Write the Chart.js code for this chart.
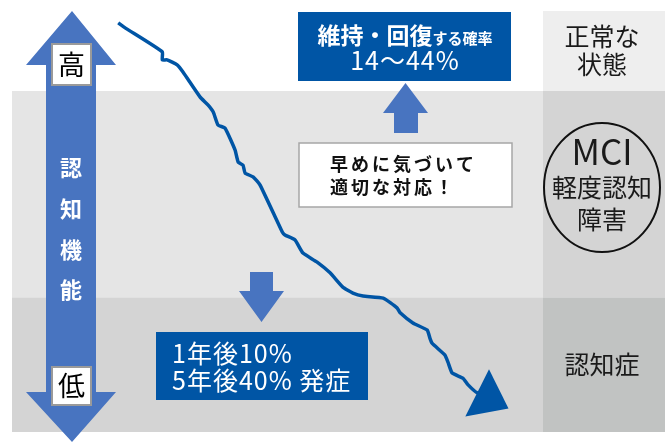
<!DOCTYPE html>
<html lang="ja">
<head>
<meta charset="utf-8">
<script src="https://cdn.jsdelivr.net/npm/chart.js@4/dist/chart.umd.min.js"></script>
<style>
  body { margin: 0; background: #ffffff; }
  canvas { display: block; }
</style>
</head>
<body>
<canvas id="myChart" width="665" height="443"></canvas>
<script>
// time (0-100) and cognitive level (0-100) along the decline curve
const timeSteps = [20.0, 21.3, 28.3, 28.3, 29.2, 31.1, 32.2, 35.4, 36.9, 37.9, 38.8, 40.1, 42.0,
  42.6, 43.5, 43.9, 45.4, 46.7, 50.9, 51.4, 53.3, 54.8, 57.4, 59.9, 62.3, 64.2, 66.1, 69.9,
  72.5, 73.1, 75.5, 78.2, 78.7, 79.1, 81.5, 82.1, 82.9, 84.9, 85.9, 87.6, 93.0];
const cognition = [97.2, 96.0, 90.3, 88.4, 88.4, 87.2, 85.5, 79.6, 77.7, 76.0, 72.9, 72.2, 67.0,
  64.1, 63.4, 61.5, 60.6, 58.7, 47.5, 46.8, 45.6, 42.5, 40.4, 37.8, 34.4, 33.0, 32.3, 31.8,
  29.5, 28.3, 25.9, 24.2, 22.3, 21.1, 18.3, 16.6, 14.0, 12.8, 11.2, 9.3, 5.9];

// bands from bottom to top
const bandEdges = [0, 32, 81, 100];
const bandLabels = [["認知症"], ["MCI", "軽度認知", "障害"], ["正常な", "状態"]];

// callouts
const axisTitle = ["認", "知", "機", "能"];
const highLabel = "高";
const lowLabel = "低";
const recoverTitle = "維持・回復";
const recoverSub = "する確率";
const recoverRange = "14〜44%";
const adviceLines = ["早めに気づいて", "適切な対応！"];
const onsetLines = ["1年後10%", "5年後40% 発症"];

const FONT = '"Noto Sans CJK JP", "Noto Sans", sans-serif';
const ARROW_BLUE = "#4874c0";
const BOX_BLUE = "#0055a5";

function poly(ctx, pts, color) {
  ctx.beginPath();
  ctx.moveTo(pts[0][0], pts[0][1]);
  for (let i = 1; i < pts.length; i++) ctx.lineTo(pts[i][0], pts[i][1]);
  ctx.closePath();
  ctx.fillStyle = color;
  ctx.fill();
}

function text(ctx, str, x, y, size, color, weight, align) {
  ctx.font = (weight || "normal") + " " + size + "px " + FONT;
  ctx.fillStyle = color;
  ctx.textAlign = align || "center";
  ctx.textBaseline = "middle";
  ctx.fillText(str, x, y);
}

const decor = {
  id: "decor",
  beforeDatasetsDraw(chart) {
    const { ctx, chartArea: a, scales: { y } } = chart;
    const W = chart.width;
    const leftColors = ["#d4d4d4", "#e5e5e5", null];
    const colColors = ["#c1c3c2", "#d4d4d4", "#eeeeee"];
    ctx.save();

    // bands
    for (let i = 0; i < 3; i++) {
      const top = y.getPixelForValue(bandEdges[i + 1]);
      const bottom = y.getPixelForValue(bandEdges[i]);
      if (leftColors[i]) {
        ctx.fillStyle = leftColors[i];
        ctx.fillRect(a.left, top, a.right - a.left, bottom - top);
      }
      ctx.fillStyle = colColors[i];
      ctx.fillRect(a.right, top, W - a.right, bottom - top);
    }

    // band labels in the right column
    const cx = (a.right + W) / 2 - 2;
    const mid = (i) => (y.getPixelForValue(bandEdges[i]) + y.getPixelForValue(bandEdges[i + 1])) / 2;
    text(ctx, bandLabels[2][0], cx, 36, 25, "#1a1a1a");
    text(ctx, bandLabels[2][1], cx, 64, 25, "#1a1a1a");
    text(ctx, bandLabels[1][0], cx, 152, 35, "#1a1a1a");
    text(ctx, bandLabels[1][1], cx, 187, 25, "#1a1a1a");
    text(ctx, bandLabels[1][2], cx, 219, 25, "#1a1a1a");
    ctx.beginPath();
    ctx.ellipse(cx, 187.5, 58, 64.5, 0, 0, Math.PI * 2);
    ctx.strokeStyle = "#111111";
    ctx.lineWidth = 2;
    ctx.stroke();
    text(ctx, bandLabels[0][0], cx, mid(0), 25, "#1a1a1a");

    // vertical double arrow
    poly(ctx, [[72, 11], [116, 65], [96, 65], [96, 392], [116, 392], [72, 442],
      [26, 392], [46, 392], [46, 65], [26, 65]], ARROW_BLUE);
    ctx.fillStyle = "#ffffff";
    ctx.strokeStyle = "#9a9a9a";
    ctx.lineWidth = 2;
    ctx.fillRect(52, 44, 39, 41);
    ctx.strokeRect(52, 44, 39, 41);
    ctx.fillRect(52, 367, 39, 38);
    ctx.strokeRect(52, 367, 39, 38);
    text(ctx, highLabel, 71.5, 65, 27, "#000000");
    text(ctx, lowLabel, 71.5, 386, 27, "#000000");
    axisTitle.forEach((c, i) => text(ctx, c, 71, 168 + i * 40.7, 22, "#ffffff", "bold"));

    // recovery box and up arrow
    ctx.fillStyle = BOX_BLUE;
    ctx.fillRect(298, 12, 213, 69);
    ctx.font = "bold 23px " + FONT;
    const w1 = ctx.measureText(recoverTitle).width;
    ctx.font = "bold 15px " + FONT;
    const w2 = ctx.measureText(recoverSub).width;
    const sx = 405 - (w1 + w2) / 2;
    text(ctx, recoverTitle, sx, 35, 23, "#ffffff", "bold", "left");
    text(ctx, recoverSub, sx + w1, 38, 15, "#ffffff", "bold", "left");
    ctx.letterSpacing = "1px";
    text(ctx, recoverRange, 405, 60, 25, "#ffffff");
    ctx.letterSpacing = "0px";
    poly(ctx, [[405.5, 83], [428, 113], [418, 113], [418, 133], [394, 133], [394, 113], [383, 113]], ARROW_BLUE);

    // advice box
    ctx.fillStyle = "#ffffff";
    ctx.fillRect(299, 143, 213, 64);
    ctx.strokeStyle = "#a6a6a6";
    ctx.lineWidth = 1.5;
    ctx.strokeRect(299, 143, 213, 64);
    ctx.letterSpacing = "3px";
    text(ctx, adviceLines[0], 330, 164, 18, "#111111", "bold", "left");
    text(ctx, adviceLines[1], 330, 187, 18, "#111111", "bold", "left");
    ctx.letterSpacing = "0px";

    // onset box and down arrow
    poly(ctx, [[250, 272], [273, 272], [273, 291], [284, 291], [261.5, 322], [239, 291], [250, 291]], ARROW_BLUE);
    ctx.fillStyle = BOX_BLUE;
    ctx.fillRect(156, 332, 212, 68);
    ctx.letterSpacing = "1px";
    text(ctx, onsetLines[0], 172, 353, 25, "#ffffff", "normal", "left");
    text(ctx, onsetLines[1], 172, 380, 25, "#ffffff", "normal", "left");
    ctx.letterSpacing = "0px";

    ctx.restore();
  },
  // arrow head at the end of the curve
  afterDatasetsDraw(chart) {
    const { ctx } = chart;
    const pts = chart.getDatasetMeta(0).data;
    const tip = pts[pts.length - 1];
    const base = pts[pts.length - 2];
    const dx = tip.x - base.x;
    const dy = tip.y - base.y;
    const len = Math.hypot(dx, dy);
    const ux = dx / len;
    const uy = dy / len;
    const px = -uy * 26.5;
    const py = ux * 26.5;
    ctx.save();
    poly(ctx, [[tip.x + ux * 3, tip.y + uy * 3], [base.x + px, base.y + py], [base.x - px, base.y - py]], BOX_BLUE);
    ctx.restore();
  },
};

const points = timeSteps.map((t, i) => ({ x: t, y: cognition[i] }));

new Chart(document.getElementById("myChart"), {
  type: "line",
  data: {
    datasets: [
      {
        data: points,
        borderColor: BOX_BLUE,
        borderWidth: 3.5,
        borderCapStyle: "butt",
        borderJoinStyle: "round",
        tension: 0.15,
        pointRadius: 0,
        fill: false,
      },
    ],
  },
  options: {
    responsive: false,
    animation: false,
    layout: { padding: { left: 12, right: 122, top: 11, bottom: 11 } },
    plugins: { legend: { display: false }, tooltip: { enabled: false } },
    scales: {
      x: { type: "linear", min: 0, max: 100, display: false },
      y: { min: 0, max: 100, display: false },
    },
  },
  plugins: [decor],
});
</script>
</body>
</html>
